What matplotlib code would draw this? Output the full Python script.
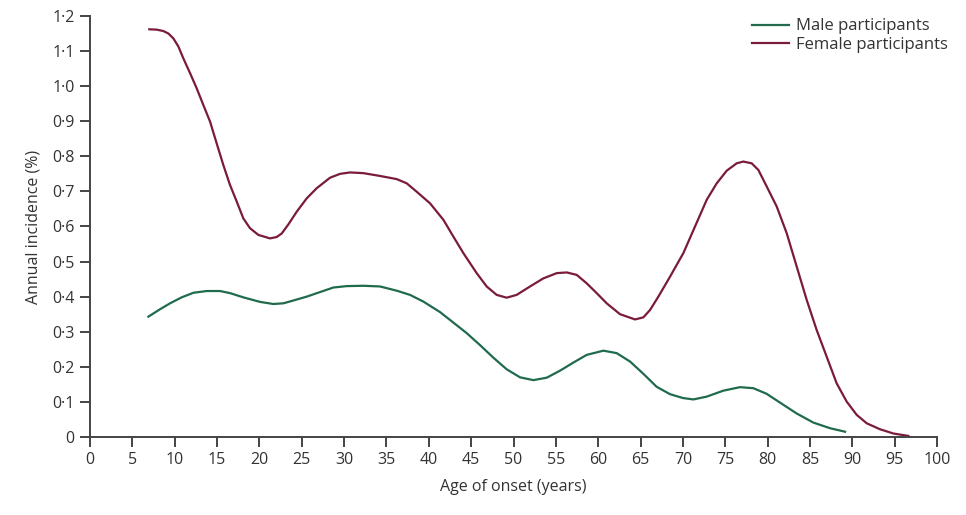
import numpy as np
import matplotlib.pyplot as plt
from matplotlib.ticker import FixedLocator, FuncFormatter

plt.rcParams['font.family'] = ['Open Sans', 'DejaVu Sans']

# values
male_age = [6.89, 8.26, 9.45, 10.82, 12.20, 13.77, 15.35, 16.53, 18.10, 20.07, 21.65, 22.83,
            24.01, 25.58, 27.15, 28.73, 30.30, 32.27, 34.24, 36.21, 37.78, 39.35, 41.32, 42.90,
            44.47, 46.04, 47.62, 49.19, 50.77, 52.34, 53.92, 55.49, 57.06, 58.64, 60.61, 62.18,
            63.76, 65.33, 66.90, 68.48, 70.0, 71.23, 72.81, 74.77, 76.74, 78.32, 79.89, 81.46,
            83.43, 85.40, 87.37, 89.14]
male_inc = [0.343, 0.364, 0.381, 0.398, 0.411, 0.416, 0.416, 0.410, 0.398, 0.385, 0.379, 0.381,
            0.389, 0.400, 0.413, 0.426, 0.430, 0.431, 0.429, 0.417, 0.405, 0.386, 0.356, 0.326,
            0.296, 0.262, 0.226, 0.193, 0.170, 0.162, 0.169, 0.189, 0.212, 0.234, 0.246, 0.239,
            0.215, 0.180, 0.143, 0.122, 0.111, 0.107, 0.115, 0.132, 0.142, 0.139, 0.123, 0.098,
            0.067, 0.041, 0.025, 0.015]

female_age = [7.00, 7.87, 8.66, 9.25, 9.84, 10.43, 11.02, 11.81, 12.59, 13.38, 14.17, 14.95,
              15.74, 16.53, 17.32, 18.10, 18.89, 19.87, 21.25, 22.04, 22.63, 23.42, 24.40, 25.58,
              26.76, 28.34, 29.52, 30.70, 32.27, 34.24, 36.21, 37.39, 38.57, 40.14, 41.72, 42.90,
              44.08, 45.65, 46.83, 48.01, 49.19, 50.37, 51.95, 53.52, 55.10, 56.28, 57.46, 58.64,
              59.82, 61.00, 62.57, 64.35, 65.33, 66.12, 67.1, 68.48, 70.05, 71.43, 72.81, 73.99,
              75.17, 76.35, 77.13, 78.12, 78.91, 79.89, 81.07, 82.25, 83.43, 84.61, 85.79, 86.97,
              88.15, 89.33, 90.52, 91.70, 93.27, 94.84, 96.61]
female_inc = [1.162, 1.161, 1.157, 1.150, 1.136, 1.113, 1.079, 1.037, 0.994, 0.946, 0.899, 0.837,
              0.775, 0.718, 0.671, 0.623, 0.595, 0.576, 0.566, 0.570, 0.580, 0.606, 0.642, 0.680,
              0.709, 0.739, 0.750, 0.754, 0.752, 0.744, 0.735, 0.723, 0.699, 0.666, 0.619, 0.571,
              0.524, 0.467, 0.429, 0.405, 0.397, 0.405, 0.429, 0.452, 0.467, 0.469, 0.462, 0.438,
              0.410, 0.381, 0.350, 0.335, 0.341, 0.362, 0.400, 0.457, 0.524, 0.600, 0.676, 0.723,
              0.759, 0.780, 0.785, 0.780, 0.761, 0.714, 0.657, 0.581, 0.486, 0.391, 0.305, 0.229,
              0.153, 0.101, 0.063, 0.039, 0.022, 0.010, 0.003]

x_ticks = list(range(0, 101, 5))
y_ticks = [round(0.1 * i, 1) for i in range(13)]

fig = plt.figure(figsize=(9.66, 5.15), dpi=100)
ax = fig.add_axes([0.0932, 0.1515, 0.8768, 0.8175])

ax.plot(male_age, male_inc, color='#1f6b4c', lw=1.6, solid_joinstyle='round',
        label='Male participants')
ax.plot(female_age, female_inc, color='#7a1b3c', lw=1.6, solid_joinstyle='round',
        label='Female participants')

ax.set_xlim(0, 100)
ax.set_ylim(0, 1.2)
ax.xaxis.set_major_locator(FixedLocator(x_ticks))
ax.yaxis.set_major_locator(FixedLocator(y_ticks))
ax.yaxis.set_major_formatter(FuncFormatter(
    lambda v, p: '0' if abs(v) < 1e-9 else f'{v:.1f}'.replace('.', '\u00b7')))

for s in ['top', 'right']:
    ax.spines[s].set_visible(False)
for s in ['left', 'bottom']:
    ax.spines[s].set_color('#444444')
    ax.spines[s].set_linewidth(1.4)
ax.tick_params(direction='out', length=7, width=1.4, color='#444444',
               labelsize=11.5, labelcolor='#333333', pad=4)

ax.set_xlabel('Age of onset (years)', fontsize=11.5, color='#333333', labelpad=8)
ax.set_ylabel('Annual incidence (%)', fontsize=11.5, color='#333333', labelpad=8)

ax.legend(loc='upper right', bbox_to_anchor=(1.03, 1.03), frameon=False,
          fontsize=12, handlelength=2.2, handletextpad=0.4, labelspacing=0.15,
          labelcolor='#333333')

fig.savefig('out.png', dpi=100)
